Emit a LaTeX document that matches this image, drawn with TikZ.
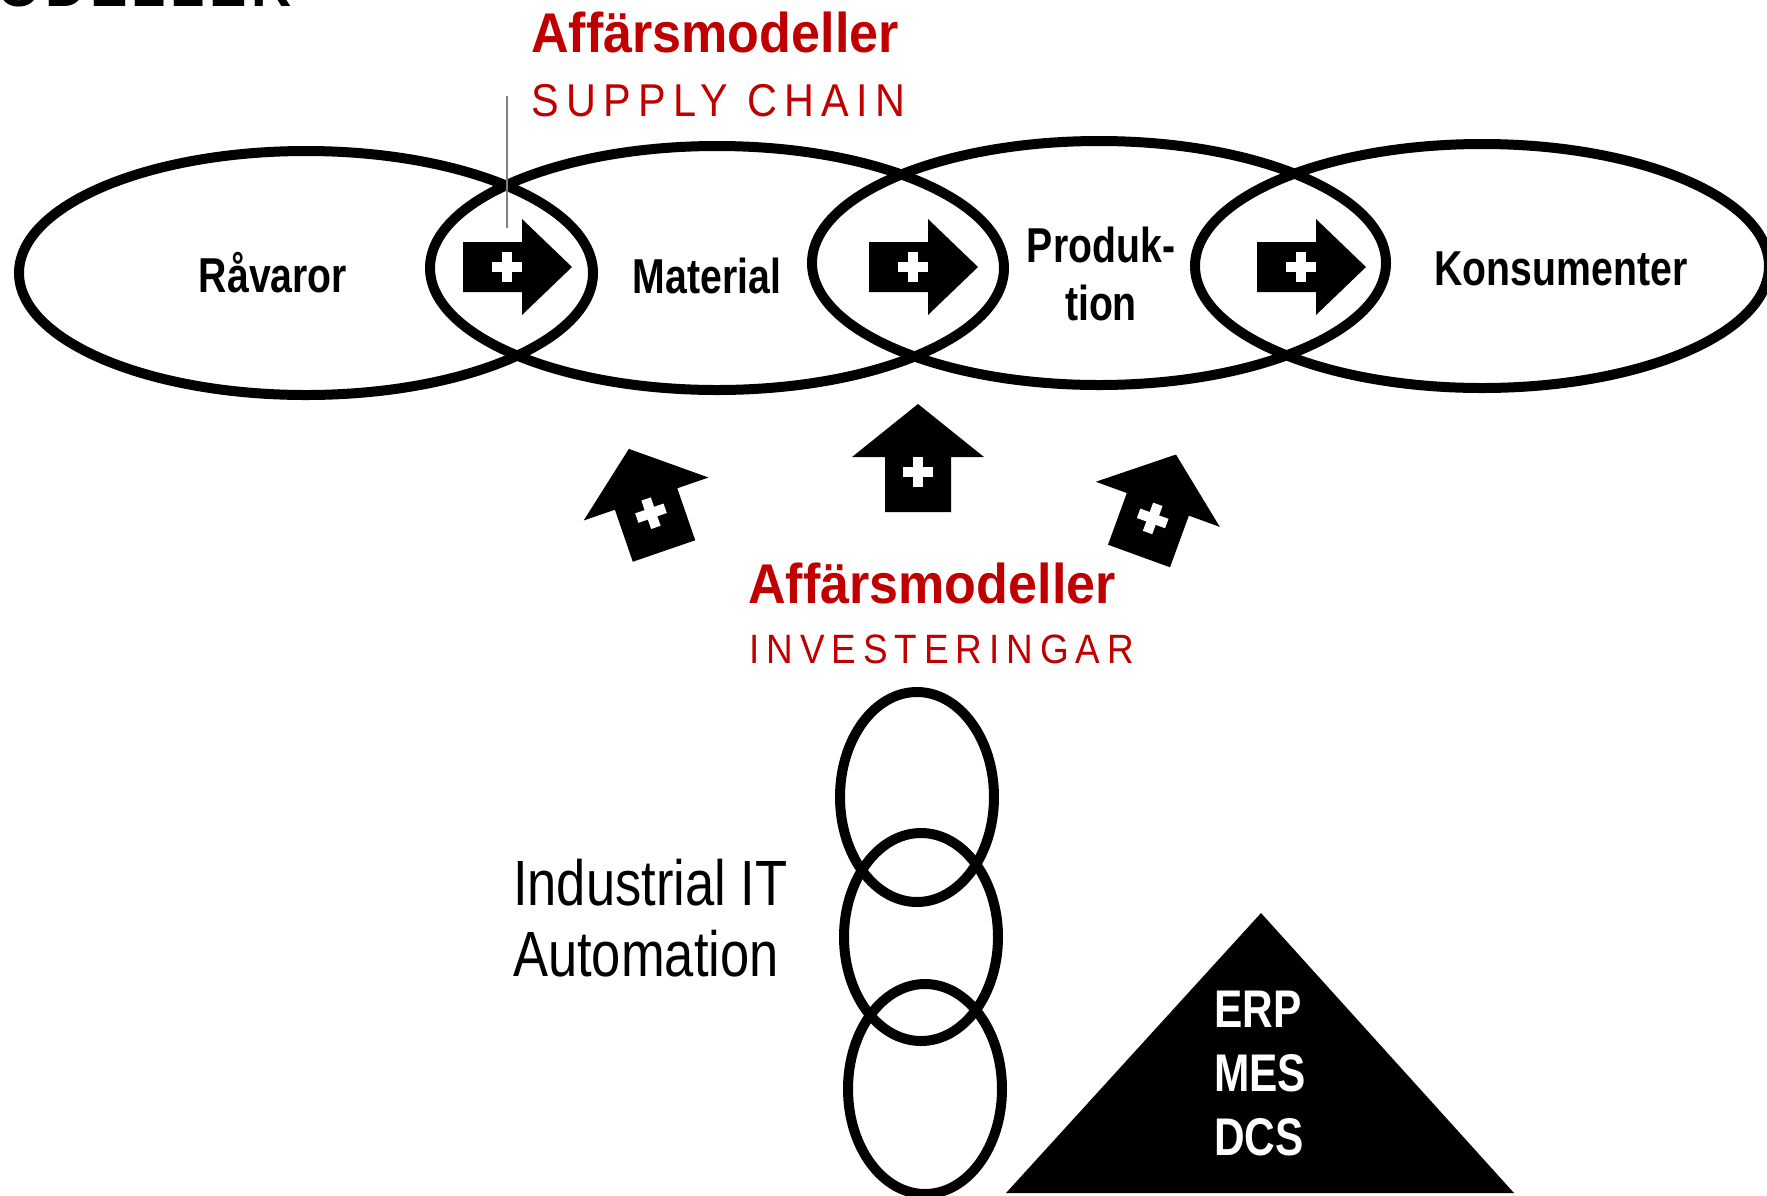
\documentclass[tikz,border=0pt]{standalone}
\usepackage{fontspec}
\setmainfont{Liberation Sans}
\newfontfamily\narrowsans[FakeStretch=0.8]{Liberation Sans}
\newfontfamily\plainnarrow[FakeStretch=0.82]{Liberation Sans}
\newfontfamily\titlesans[FakeStretch=0.93]{Liberation Sans}
\newfontfamily\spacedsans[FakeStretch=0.9]{Liberation Sans}
\usetikzlibrary{positioning}
\definecolor{titlered}{RGB}{192,0,0}

\begin{document}
\begin{tikzpicture}[
    x=1pt, y=-1pt,
    % Styles
    ring/.style={draw=black, line width=10pt},
    stagetext/.style={font={\narrowsans\bfseries\fontsize{49}{58}\selectfont}, inner sep=0pt, align=center},
    redtitle/.style={text=titlered, font={\titlesans\bfseries\fontsize{56}{60}\selectfont}, inner sep=0pt, anchor=base west},
    redsub/.style={text=titlered, inner sep=0pt, anchor=base west},
    ittext/.style={font={\plainnarrow\fontsize{64}{72}\selectfont}, inner sep=0pt, align=left, anchor=base west},
    layertext/.style={text=white, font={\narrowsans\bfseries\fontsize{53}{64}\selectfont}, inner sep=0pt, align=left},
    pics/plusarrow/.style n args={4}{code={
        \fill (0,-#2) -- (#1,-#2) -- (#1,-#4) -- (#1+#3,0) -- (#1,#4) -- (#1,#2) -- (0,#2) -- cycle;
        \fill[white] (#1-30,-5) rectangle (#1,5);
        \fill[white] (#1-20,-15) rectangle (#1-10,15);
    }},
]
\useasboundingbox (0,0) rectangle (1767,1195);

% Cut-off heading
\node[font={\bfseries\fontsize{56}{60}\selectfont\addfontfeature{LetterSpace=8}}, inner sep=0pt, anchor=base west] (heading) at (-3,6) {ODELLER};

% Supply chain
\draw[ring] (306,273) ellipse [x radius=287, y radius=122];
\draw[ring] (717,268) ellipse [x radius=287, y radius=122];
\draw[ring] (1099,263) ellipse [x radius=287, y radius=122];
\draw[ring] (1482,266) ellipse [x radius=287, y radius=122];

\node[stagetext, anchor=base] (ravaror) at (273,292) {Råvaror};
\node[stagetext, anchor=base] (material) at (707,293) {Material};
\node[stagetext] (produktion) at (1101,274) {Produk-\\tion};
\node[stagetext, anchor=base] (konsumenter) at (1561,285) {Konsumenter};

\pic at (463,267) {plusarrow={59}{25}{50}{48}};
\pic at (869,267) {plusarrow={59}{25}{50}{48}};
\pic at (1257,267) {plusarrow={59}{25}{50}{48}};

% Titles
\node[redtitle] (sctitle) at (531,52) {Affärsmodeller};
\node[redsub, font={\spacedsans\fontsize{46}{50}\selectfont\addfontfeature{LetterSpace=16}}] (supplychain) at (531,116) {SUPPLY CHAIN};
\coordinate (scline) at (507,96);
\coordinate (lens) at (507,228);
\draw[gray, line width=1.5pt] (scline) -- (lens);

% Investments
\pic[rotate=109] at (664,551) {plusarrow={55}{33}{53}{66}};
\pic[rotate=90] at (918,512) {plusarrow={55}{33}{53}{66}};
\pic[rotate=70] at (1139,556) {plusarrow={55}{33}{53}{66}};

\node[redtitle] (invtitle) at (748,603) {Affärsmodeller};
\node[redsub, font={\spacedsans\fontsize{41}{45}\selectfont\addfontfeature{LetterSpace=17}}] (investeringar) at (749,663) {INVESTERINGAR};

% Industrial IT
\draw[ring] (917,797) ellipse [x radius=77, y radius=105];
\draw[ring] (921,937) ellipse [x radius=77, y radius=104];
\draw[ring] (925,1089) ellipse [x radius=77, y radius=105];
\node[ittext] (industrialit) at (513,905) {Industrial IT};
\node[ittext] (automation) at (513,976) {Automation};

% Pyramid
\fill (1261,913) -- (1514,1193) -- (1006,1193) -- cycle;
\node[layertext, anchor=west] (layers) at (1214,1074) {ERP\\MES\\DCS};

\end{tikzpicture}
\end{document}
